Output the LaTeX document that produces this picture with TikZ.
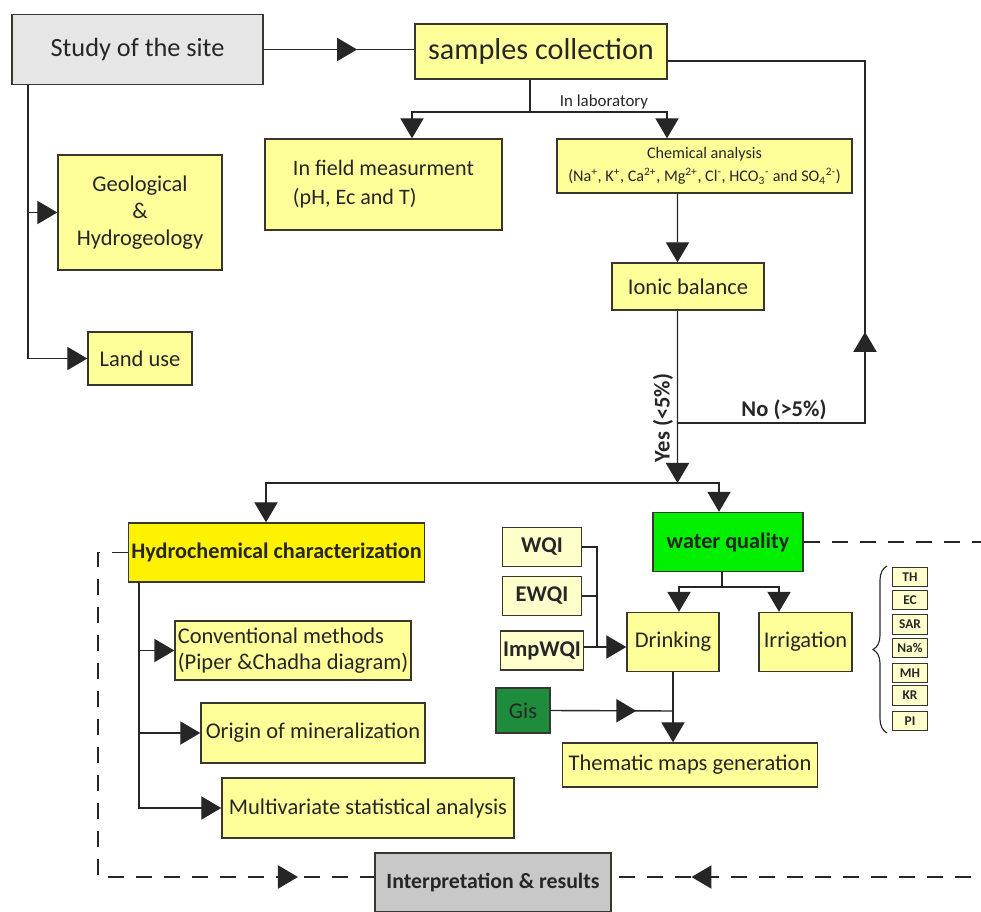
\documentclass[tikz,border=0pt]{standalone}
\usepackage{fontspec}
\setmainfont{Carlito}
\usetikzlibrary{arrows.meta, calc, decorations.markings, decorations.pathreplacing}

\definecolor{paleYellow}{RGB}{255,255,153}
\definecolor{lightCream}{RGB}{255,255,204}
\definecolor{siteGray}{RGB}{230,230,230}
\definecolor{resultGray}{RGB}{200,200,200}
\definecolor{brightGreen}{RGB}{0,240,0}
\definecolor{gisGreen}{RGB}{30,140,60}
\definecolor{boxLine}{RGB}{55,55,45}

\tikzset{
	block/.style={draw=boxLine, line width=1pt, fill=paleYellow, align=center, inner sep=2pt, text=black!85, font=\fontsize{16}{19}\selectfont},
	indexbox/.style={block, fill=lightCream, minimum width=1.975cm, minimum height=0.975cm, font=\bfseries\fontsize{16}{19}\selectfont},
	tag/.style={draw=boxLine, line width=0.8pt, fill=lightCream, minimum width=0.875cm, minimum height=0.48cm, inner sep=0pt, text=black!85, font=\bfseries\fontsize{9.5}{10}\selectfont},
	wire/.style={line width=1pt, draw=black!85},
	arrowwire/.style={wire, -{Triangle[length=0.5cm, width=0.58cm]}},
	midtip/.style={wire, postaction={decorate}, decoration={markings, mark=at position #1 with {\arrow{Triangle[length=0.5cm, width=0.58cm]}}}},
	feedback/.style={dash pattern=on 0.4cm off 0.3cm}
}

\begin{document}
\begin{tikzpicture}[x=0.025cm, y=-0.025cm]
	\useasboundingbox (0,0) rectangle (981,912);
	\clip (0,0) rectangle (981,912);
	% Boxes:
	\node[block, fill=siteGray, minimum width=6.275cm, minimum height=1.75cm, font=\fontsize{18.7}{22}\selectfont] (site) at (137.5,49.5) {Study of the site};
	\node[block, minimum width=6.3cm, minimum height=1.375cm, font=\fontsize{21.5}{25}\selectfont] (samples) at (541,51.5) {samples collection};
	\node[block, align=left, minimum width=5.925cm, minimum height=2.275cm, font=\fontsize{15.7}{20.5}\selectfont] (field) at (383.5,184.5) {In field measurment\\(pH, Ec and T)};
	\node[block, minimum width=7.375cm, minimum height=1.35cm, font=\fontsize{11.5}{16}\selectfont] (chem) at (704.5,166) {Chemical analysis\\(Na\textsuperscript{+}, K\textsuperscript{+}, Ca\textsuperscript{2+}, Mg\textsuperscript{2+}, Cl\textsuperscript{-}, HCO\textsubscript{3}\textsuperscript{-} and SO\textsubscript{4}\textsuperscript{2-})};
	\node[block, minimum width=3.8cm, minimum height=1.175cm] (ionic) at (688,286.5) {Ionic balance};
	\node[block, minimum width=4.1cm, minimum height=2.875cm] (geo) at (140,212.5) {Geological\\\&\\Hydrogeology};
	\node[block, minimum width=2.6cm, minimum height=1.325cm] (land) at (140,358.5) {Land use};
	\node[block, fill=yellow, minimum width=7.325cm, minimum height=1.475cm, font=\bfseries\fontsize{15.8}{18}\selectfont] (hydro) at (276.5,552.5) {Hydrochemical characterization};
	\node[block, align=left, minimum width=5.75cm, minimum height=1.475cm] (conv) at (293,650.5) {Conventional methods\\(Piper \&Chadha diagram)};
	\node[block, minimum width=5.6cm, minimum height=1.5cm] (origin) at (313,733) {Origin of mineralization};
	\node[block, minimum width=7.3cm, minimum height=1.5cm] (multi) at (368,808) {Multivariate statistical analysis};
	\node[block, fill=brightGreen, minimum width=3.75cm, minimum height=1.475cm, font=\bfseries\fontsize{15.8}{18}\selectfont] (wq) at (728,542) {water quality};
	\node[indexbox] (wqi) at (542,547) {WQI};
	\node[indexbox] (ewqi) at (542,596) {EWQI};
	\node[indexbox] (impwqi) at (542,650.5) {ImpWQI};
	\node[block, minimum width=2.3cm, minimum height=1.475cm] (drink) at (673,642) {Drinking};
	\node[block, minimum width=2.325cm, minimum height=1.475cm] (irrig) at (805.5,642) {Irrigation};
	\node[block, fill=gisGreen, minimum width=1.35cm, minimum height=1.125cm] (gis) at (523,710.5) {Gis};
	\node[block, minimum width=6.375cm, minimum height=1.1cm] (thematic) at (690,765) {Thematic maps generation};
	\node[block, fill=resultGray, line width=2pt, minimum width=5.9cm, minimum height=1.475cm, font=\bfseries\fontsize{15.5}{18}\selectfont] (interp) at (493,882.5) {Interpretation \& results};
	% Irrigation indices:
	\node[tag] (th) at (910,577) {TH};
	\node[tag] (ec) at (910,600) {EC};
	\node[tag] (sar) at (910,624.5) {SAR};
	\node[tag] (na) at (910,648) {Na\%};
	\node[tag] (mh) at (910,673) {MH};
	\node[tag] (kr) at (910,695.5) {KR};
	\node[tag] (pi) at (910,721) {PI};
	\draw[line width=0.8pt, draw=black!85, decorate, decoration={brace, amplitude=0.35cm}] (887,733) -- (887,566);
	% Labels:
	\node[text=black!85, font=\fontsize{12}{14}\selectfont] (lab) at (604,102) {In laboratory};
	\node[text=black!85, font=\bfseries\fontsize{16}{18}\selectfont] (nolabel) at (784,410) {No (>5\%)};
	\node[rotate=90, text=black!85, font=\bfseries\fontsize{16}{18}\selectfont] (yeslabel) at (663,418) {Yes (<5\%)};
	% Wires:
	\coordinate (labsplit) at (530,112);
	\coordinate (backturn) at (865,61);
	\coordinate (nojoin) at (677.5,423);
	\coordinate (split) at (677.5,483);
	\coordinate (sitedown) at (28,357);
	\coordinate (hydrodown) at (139,808);
	\coordinate (wqsplit) at (722,587);
	\coordinate (wqicol) at (597,647);
	\coordinate (gisjoin) at (673,711);
	\coordinate (fbleft) at (98,877);
	\coordinate (fbright) at (1000,877);
	\draw[midtip=0.62] (site.east) -- (site.east -| samples.west);
	\draw[wire] (samples.south -| labsplit) -- (labsplit);
	\draw[arrowwire] (labsplit) -| ($(field.north)+(28.5,0)$);
	\draw[arrowwire] (labsplit) -| ($(chem.north)+(-37.5,0)$);
	\draw[arrowwire] ($(chem.south)+(-27,0)$) -- ($(ionic.north)+(-10.5,0)$);
	\draw[arrowwire] ($(ionic.south)+(-10.5,0)$) -- (split);
	\draw[midtip=0.373] (nojoin) -- (nojoin -| backturn) -- (backturn) -- (samples.east |- backturn);
	\draw[arrowwire] (split) -| ($(hydro.north)+(-10.5,0)$);
	\draw[arrowwire] (split) -| ($(wq.north)+(-9,0)$);
	\draw[arrowwire] (site.south -| sitedown) |- (geo.west);
	\draw[arrowwire] (site.south -| sitedown) |- (land.west);
	\draw[arrowwire] (hydro.south -| hydrodown) |- (conv.west);
	\draw[arrowwire] (hydro.south -| hydrodown) |- (origin.west);
	\draw[arrowwire] (hydro.south -| hydrodown) |- (multi.west);
	\draw[wire] (wq.south -| wqsplit) -- (wqsplit);
	\draw[arrowwire] (wqsplit) -| ($(drink.north)+(6,0)$);
	\draw[arrowwire] (wqsplit) -| ($(irrig.north)+(-26.5,0)$);
	\draw[wire] (wqi.east) -| (wqicol);
	\draw[wire] (ewqi.east) -- (ewqi.east -| wqicol);
	\draw[arrowwire] (wqicol -| impwqi.east) -- (wqicol -| drink.west);
	\draw[midtip=0.7] (gis.east) -- (gisjoin);
	\draw[arrowwire] (drink.south) -- (drink.south |- thematic.north);
	\draw[feedback, midtip=0.88] (hydro.west) -| (fbleft) -- (fbleft -| interp.west);
	\draw[feedback, midtip=0.914] (wq.east) -| (fbright) -- (fbright -| interp.east);
\end{tikzpicture}
\end{document}
